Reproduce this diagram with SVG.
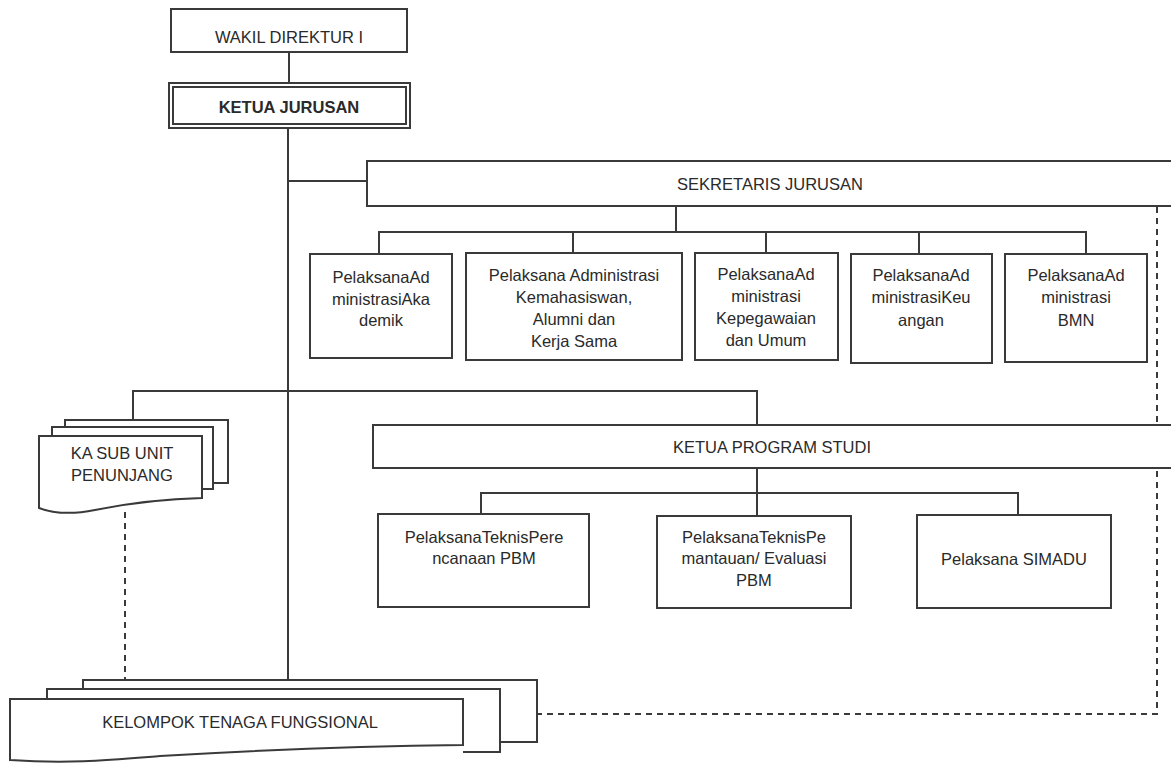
<svg xmlns="http://www.w3.org/2000/svg" width="1171" height="766" viewBox="0 0 1171 766">
<style>
.box{fill:#fff;stroke:#3a3a3a;stroke-width:2}
.ln{fill:none;stroke:#3a3a3a;stroke-width:2}
.dash{fill:none;stroke:#3a3a3a;stroke-width:2;stroke-dasharray:6 5}
.t{font-family:"Liberation Sans",Arial,sans-serif;font-size:16.5px;fill:#2a2a2a;text-anchor:middle}
.b{font-weight:bold}
</style>
<rect width="1171" height="766" fill="#fff"/>
<g id="connectors">
<line class="ln" x1="289" y1="52" x2="289" y2="83"/>
<line class="ln" x1="288" y1="128" x2="288" y2="680"/>
<line class="ln" x1="288" y1="181" x2="367" y2="181"/>
<line class="ln" x1="676" y1="206" x2="676" y2="232"/>
<polyline class="ln" points="379,254 379,232 1086,232 1086,254"/>
<line class="ln" x1="573" y1="232" x2="573" y2="253"/>
<line class="ln" x1="766" y1="232" x2="766" y2="253"/>
<line class="ln" x1="919" y1="232" x2="919" y2="254"/>
<polyline class="ln" points="133,420 133,391 757,391 757,425"/>
<line class="ln" x1="757" y1="468" x2="757" y2="516"/>
<polyline class="ln" points="481,514 481,493 1018,493 1018,515"/>
<line class="dash" x1="125" y1="512" x2="125" y2="680"/>
<polyline class="dash" points="1157,207 1157,714 537,714"/>
</g>
<g id="wakil">
<rect class="box" x="171" y="9" width="236" height="43"/>
<text class="t" x="289" y="43">WAKIL DIREKTUR I</text>
</g>
<g id="ketua-jurusan">
<rect class="box" x="169" y="83" width="241" height="45" stroke-width="3.5"/>
<rect class="ln" x="173" y="87" width="233" height="37" stroke-width="1.2"/>
<text class="t b" x="289" y="113">KETUA JURUSAN</text>
</g>
<g id="sekretaris">
<rect class="box" x="367" y="161" width="810" height="45"/>
<text class="t" x="770" y="190">SEKRETARIS JURUSAN</text>
</g>
<g id="pa-akademik">
<rect class="box" x="310" y="254" width="142" height="104"/>
<text class="t" x="381" y="283">PelaksanaAd</text>
<text class="t" x="381" y="305">ministrasiAka</text>
<text class="t" x="381" y="326">demik</text>
</g>
<g id="pa-kemahasiswaan">
<rect class="box" x="466" y="253" width="216" height="107"/>
<text class="t" x="574" y="281">Pelaksana Administrasi</text>
<text class="t" x="574" y="303">Kemahasiswan,</text>
<text class="t" x="574" y="325">Alumni dan</text>
<text class="t" x="574" y="347">Kerja Sama</text>
</g>
<g id="pa-kepegawaian">
<rect class="box" x="695" y="253" width="143" height="107"/>
<text class="t" x="766" y="280">PelaksanaAd</text>
<text class="t" x="766" y="302">ministrasi</text>
<text class="t" x="766" y="324">Kepegawaian</text>
<text class="t" x="766" y="346">dan Umum</text>
</g>
<g id="pa-keuangan">
<rect class="box" x="851" y="254" width="141" height="109"/>
<text class="t" x="921" y="281">PelaksanaAd</text>
<text class="t" x="921" y="303">ministrasiKeu</text>
<text class="t" x="921" y="326">angan</text>
</g>
<g id="pa-bmn">
<rect class="box" x="1005" y="254" width="142" height="108"/>
<text class="t" x="1076" y="281">PelaksanaAd</text>
<text class="t" x="1076" y="303">ministrasi</text>
<text class="t" x="1076" y="326">BMN</text>
</g>
<g id="ka-sub-unit">
<path class="box" d="M65,427 V420 H228 V483 H213"/>
<path class="box" d="M52,436 V427 H213 V489 H202"/>
<path class="box" d="M39,436 H202 V498 C160,499 130,503 95,510 C75,514 55,514 39,508 Z"/>
<text class="t" x="122" y="459">KA SUB UNIT</text>
<text class="t" x="122" y="481">PENUNJANG</text>
</g>
<g id="ketua-prodi">
<rect class="box" x="373" y="425" width="804" height="43"/>
<text class="t" x="772" y="453">KETUA PROGRAM STUDI</text>
</g>
<g id="pt-perencanaan">
<rect class="box" x="378" y="514" width="211" height="93"/>
<text class="t" x="484" y="543">PelaksanaTeknisPere</text>
<text class="t" x="484" y="564">ncanaan PBM</text>
</g>
<g id="pt-pemantauan">
<rect class="box" x="657" y="516" width="194" height="92"/>
<text class="t" x="754" y="543">PelaksanaTeknisPe</text>
<text class="t" x="754" y="564">mantauan/ Evaluasi</text>
<text class="t" x="754" y="586">PBM</text>
</g>
<g id="simadu">
<rect class="box" x="917" y="515" width="194" height="93"/>
<text class="t" x="1014" y="565">Pelaksana SIMADU</text>
</g>
<g id="kelompok">
<path class="box" d="M83,689 V680 H537 V742 H500"/>
<path class="box" d="M47,699 V689 H500 V752 H463"/>
<path class="box" d="M10,699 H463 V745 C360,746 260,750 160,756 C110,760 70,764 10,760 Z"/>
<text class="t" x="240" y="728">KELOMPOK TENAGA FUNGSIONAL</text>
</g>
</svg>
